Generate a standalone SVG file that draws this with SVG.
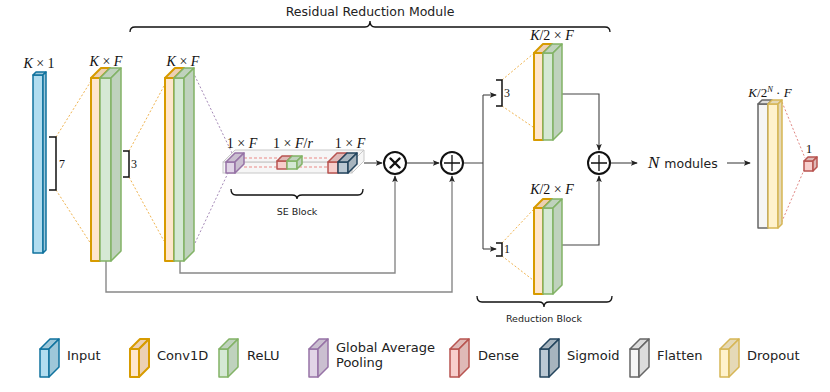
<svg xmlns="http://www.w3.org/2000/svg" width="830" height="392" viewBox="0 0 830 392">
<style>
.sans{font-family:"DejaVu Sans","Verdana",sans-serif;fill:#222}
.math{font-family:"Liberation Serif","Times New Roman",serif;fill:#111;font-size:14px}
.it{font-style:italic}
.inp *{stroke:#10739e;stroke-width:1.5;stroke-linejoin:round}
.inp .f{fill:#b1ddf0}.inp .d{fill:#9ec7d9}
.conv *{stroke:#d79b00;stroke-width:2;stroke-linejoin:round}
.conv .f{fill:#ffe6cc}.conv .d{fill:#ecd0b4}
.relu *{stroke:#82b366;stroke-width:1.5;stroke-linejoin:round}
.relu .f{fill:#d5e8d4}.relu .d{fill:#bfd2bd}
.gap *{stroke:#9673a6;stroke-width:1.5;stroke-linejoin:round}
.gap .f{fill:#e1d5e7}.gap .d{fill:#cabfd0}
.dense *{stroke:#b85450;stroke-width:1.5;stroke-linejoin:round}
.dense .f{fill:#f8cecc}.dense .d{fill:#dfb9b7}
.sig *{stroke:#23445d;stroke-width:1.5;stroke-linejoin:round}
.sig .f{fill:#bac8d3}.sig .d{fill:#a7b4be}
.flat *{stroke:#666;stroke-width:1.5;stroke-linejoin:round}
.flat .f{fill:#f5f5f5}.flat .d{fill:#dcdcdc}
.drop *{stroke:#d6b656;stroke-width:1.5;stroke-linejoin:round}
.drop .f{fill:#fff2cc}.drop .d{fill:#e5d9b7}
.sebox *{stroke:#c8c8c8;stroke-width:1;fill:#f0f0f0;fill-opacity:0.6}
.dot-o{stroke:#f0b450;stroke-width:1;stroke-dasharray:2 2;fill:none}
.dot-p{stroke:#a68bb8;stroke-width:1;stroke-dasharray:2 2;fill:none}
.dot-r{stroke:#e08884;stroke-width:1;stroke-dasharray:2 2;fill:none}
.dash-r{stroke:#ea8a86;stroke-width:1;stroke-dasharray:3 2;fill:none}
.brk{stroke:#111;stroke-width:1.5;fill:none}
.brace{stroke:#111;stroke-width:1.3;fill:none}
.ln{stroke:#444;stroke-width:1.1;fill:none}
.lg{stroke:#888;stroke-width:1.4;fill:none}
.op{fill:#fff;stroke:#111;stroke-width:2}
.num{font-family:"Liberation Serif","Times New Roman",serif;fill:#111;font-size:12px}
</style>
<defs>
<marker id="ah" viewBox="0 0 8 8" refX="7" refY="4" markerWidth="7" markerHeight="7" markerUnits="userSpaceOnUse" orient="auto">
<path d="M0,0.8 L8,4 L0,7.2 L1.8,4 Z" fill="#222"/>
</marker>
</defs>

<!-- braces and titles -->
<g id="residual-module-brace">
<path class="brace" d="M130,32 Q130,27 135,27 L365,27 Q370,27 370,21 Q370,27 375,27 L605,27 Q610,27 610,32"/>
<text class="sans" x="370" y="16" font-size="12.5" text-anchor="middle">Residual Reduction Module</text>
</g>

<!-- connectors -->
<g id="connectors">
<path class="dot-o" d="M56,137 L91,81 M56,190 L91,244"/>
<path class="dot-o" d="M129,151 L164,86 M129,177 L164,241"/>
<path class="dot-p" d="M193,72 L232,153 M195,243 L228,173"/>
<path class="dot-o" d="M502,80 L533,54 M502,106 L533,127"/>
<path class="dot-o" d="M502,243 L533,210 M502,256 L533,280"/>
<path class="dot-r" d="M782,102 L805,158 M780,226 L804,170"/>
<path class="lg" d="M106,261 L106,292 L452,292 L452,176" marker-end="url(#ah)"/>
<path class="lg" d="M180,261 L180,273 L395,273 L395,176" marker-end="url(#ah)"/>
<path class="ln" d="M364,163 L382,163" marker-end="url(#ah)"/>
<path class="ln" d="M407,163 L439,163" marker-end="url(#ah)"/>
<path class="ln" d="M464,163 L483,163 M483,95 L483,249"/>
<path class="ln" d="M483,95 L496,95" marker-end="url(#ah)"/>
<path class="ln" d="M483,249 L496,249" marker-end="url(#ah)"/>
<path class="ln" d="M560,94 L599,94 L599,150" marker-end="url(#ah)"/>
<path class="ln" d="M559,245 L599,245 L599,176" marker-end="url(#ah)"/>
<path class="ln" d="M611,163 L637,163" marker-end="url(#ah)"/>
<path class="ln" d="M727,163 L750,163" marker-end="url(#ah)"/>
</g>

<!-- input -->
<g id="input">
<g class="inp"><rect class="f" x="33" y="75" width="10" height="178"/><path class="d" d="M33,75 L36,72 L46,72 L43,75Z"/><path class="d" d="M43,75 L46,72 L46,250 L43,253Z"/></g>
<text class="math" x="39" y="68" text-anchor="middle"><tspan class="it">K</tspan> × 1</text>
</g>
<g id="kernel7">
<path class="brk" d="M49,137 L56,137 L56,190 L49,190"/>
<text class="num" x="59" y="168">7</text>
</g>

<!-- conv block 1 -->
<g id="conv1">
<g class="conv"><rect class="f" x="91" y="78" width="9" height="183"/><path class="d" d="M91,78 L101,68 L110,68 L100,78Z"/></g>
<g class="relu"><rect class="f" x="100" y="78" width="11" height="183"/><path class="d" d="M100,78 L110,68 L121,68 L111,78Z"/><path class="d" d="M111,78 L121,68 L121,251 L111,261Z"/></g>
<text class="math" x="106" y="66" text-anchor="middle"><tspan class="it">K</tspan> × <tspan class="it">F</tspan></text>
</g>
<g id="kernel3a">
<path class="brk" d="M123,151 L129,151 L129,177 L123,177"/>
<text class="num" x="131" y="168">3</text>
</g>

<!-- conv block 2 -->
<g id="conv2">
<g class="conv"><rect class="f" x="165" y="78" width="9" height="183"/><path class="d" d="M165,78 L175,68 L184,68 L174,78Z"/></g>
<g class="relu"><rect class="f" x="174" y="78" width="10" height="183"/><path class="d" d="M174,78 L184,68 L194,68 L184,78Z"/><path class="d" d="M184,78 L194,68 L194,251 L184,261Z"/></g>
<text class="math" x="183" y="66" text-anchor="middle"><tspan class="it">K</tspan> × <tspan class="it">F</tspan></text>
</g>

<!-- SE block -->
<g id="se-block">
<g class="sebox"><rect x="223" y="162" width="129" height="11"/><path d="M223,162 L235,150 L364,150 L352,162Z"/><path d="M352,162 L364,150 L364,161 L352,173Z"/></g>
<path class="dash-r" d="M244,158 L328,158 M244,167 L328,167"/>
<g class="gap"><rect class="f" x="226" y="162" width="9" height="11"/><path class="d" d="M226,162 L235,153 L244,153 L235,162Z"/><path class="d" d="M235,162 L244,153 L244,164 L235,173Z"/></g>
<g class="dense"><rect class="f" x="277" y="161" width="10" height="8"/><path class="d" d="M277,161 L282,156 L292,156 L287,161Z"/></g>
<g class="relu"><rect class="f" x="287" y="161" width="10" height="8"/><path class="d" d="M287,161 L292,156 L302,156 L297,161Z"/><path class="d" d="M297,161 L302,156 L302,164 L297,169Z"/></g>
<g class="dense"><rect class="f" x="328" y="162" width="10" height="11"/><path class="d" d="M328,162 L337,153 L347,153 L338,162Z"/></g>
<g class="sig"><rect class="f" x="338" y="162" width="10" height="11"/><path class="d" d="M338,162 L347,153 L357,153 L348,162Z"/><path class="d" d="M348,162 L357,153 L357,164 L348,173Z"/></g>
<text class="math" x="242" y="148" text-anchor="middle">1 × <tspan class="it">F</tspan></text>
<text class="math" x="293" y="148" text-anchor="middle">1 × <tspan class="it">F</tspan>/<tspan class="it">r</tspan></text>
<text class="math" x="350" y="148" text-anchor="middle">1 × <tspan class="it">F</tspan></text>
<path class="brace" d="M231,189 Q231,195 236,195 L292,195 Q297,195 297,199 Q297,195 302,195 L358,195 Q363,195 363,189"/>
<text class="sans" x="297" y="215" font-size="9.5" text-anchor="middle">SE Block</text>
</g>

<!-- operators -->
<g id="multiply">
<circle class="op" cx="395" cy="163" r="11"/>
<path d="M390.5,158.5 L399.5,167.5 M399.5,158.5 L390.5,167.5" stroke="#111" stroke-width="2.4" stroke-linecap="round"/>
</g>
<g id="add1">
<circle class="op" cx="452" cy="163" r="11"/>
<path d="M452,155 L452,171 M444,163 L460,163" stroke="#111" stroke-width="1.3"/>
</g>

<!-- reduction block -->
<g id="kernel3b">
<path class="brk" d="M496,80 L502,80 L502,106 L496,106"/>
<text class="num" x="504" y="97">3</text>
</g>
<g id="red-conv-upper">
<g class="conv"><rect class="f" x="534" y="53" width="9" height="87"/><path class="d" d="M534,53 L543,44 L552,44 L543,53Z"/></g>
<g class="relu"><rect class="f" x="543" y="53" width="10" height="87"/><path class="d" d="M543,53 L552,44 L562,44 L553,53Z"/><path class="d" d="M553,53 L562,44 L562,131 L553,140Z"/></g>
<text class="math" x="552" y="40" text-anchor="middle"><tspan class="it">K</tspan>/2 × <tspan class="it">F</tspan></text>
</g>
<g id="kernel1">
<path class="brk" d="M496,243 L502,243 L502,256 L496,256"/>
<text class="num" x="504" y="253">1</text>
</g>
<g id="red-conv-lower">
<g class="conv"><rect class="f" x="534" y="208" width="9" height="86"/><path class="d" d="M534,208 L543,199 L552,199 L543,208Z"/></g>
<g class="relu"><rect class="f" x="543" y="208" width="10" height="86"/><path class="d" d="M543,208 L552,199 L562,199 L553,208Z"/><path class="d" d="M553,208 L562,199 L562,285 L553,294Z"/></g>
<text class="math" x="552" y="194" text-anchor="middle"><tspan class="it">K</tspan>/2 × <tspan class="it">F</tspan></text>
</g>
<g id="reduction-brace">
<path class="brace" d="M477,296 Q477,302 482,302 L539,302 Q544,302 544,307 Q544,302 549,302 L607,302 Q612,302 612,296"/>
<text class="sans" x="544" y="322" font-size="9.5" text-anchor="middle">Reduction Block</text>
</g>
<g id="add2">
<circle class="op" cx="599" cy="163" r="11"/>
<path d="M599,155 L599,171 M591,163 L607,163" stroke="#111" stroke-width="1.3"/>
</g>

<g id="n-modules">
<text x="648" y="168"><tspan class="math it" style="font-size:17px">N</tspan><tspan class="sans" font-size="12.5" dx="5">modules</tspan></text>
</g>

<!-- output -->
<g id="flatten-dropout">
<g class="flat"><rect class="f" x="758" y="104" width="10" height="124"/><path class="d" d="M758,104 L762,100 L772,100 L768,104Z"/></g>
<g class="drop"><rect class="f" x="768" y="104" width="10" height="124"/><path class="d" d="M768,104 L772,100 L782,100 L778,104Z"/><path class="d" d="M778,104 L782,100 L782,224 L778,228Z"/></g>
<text class="math" x="770" y="97" text-anchor="middle" style="font-size:13px"><tspan class="it">K</tspan>/2<tspan class="it" style="font-size:8.5px" dy="-5">N</tspan><tspan dy="5"> · </tspan><tspan class="it">F</tspan></text>
</g>
<g id="output-dense">
<g class="dense"><rect class="f" x="804" y="161" width="9" height="10"/><path class="d" d="M804,161 L808,157 L817,157 L813,161Z"/><path class="d" d="M813,161 L817,157 L817,167 L813,171Z"/></g>
<text class="math" x="809" y="153" text-anchor="middle" style="font-size:13px">1</text>
</g>

<!-- legend -->
<g id="legend">
<g class="inp"><rect class="f" x="40" y="349" width="9" height="28"/><path class="d" d="M40,349 L50,339 L59,339 L49,349Z"/><path class="d" d="M49,349 L59,339 L59,367 L49,377Z"/></g>
<text class="sans" x="67" y="360" font-size="13">Input</text>
<g class="conv"><rect class="f" x="130" y="349" width="9" height="28"/><path class="d" d="M130,349 L140,339 L149,339 L139,349Z"/><path class="d" d="M139,349 L149,339 L149,367 L139,377Z"/></g>
<text class="sans" x="157" y="360" font-size="13">Conv1D</text>
<g class="relu"><rect class="f" x="219" y="349" width="9" height="28"/><path class="d" d="M219,349 L229,339 L238,339 L228,349Z"/><path class="d" d="M228,349 L238,339 L238,367 L228,377Z"/></g>
<text class="sans" x="247" y="360" font-size="13">ReLU</text>
<g class="gap"><rect class="f" x="309" y="349" width="9" height="28"/><path class="d" d="M309,349 L319,339 L328,339 L318,349Z"/><path class="d" d="M318,349 L328,339 L328,367 L318,377Z"/></g>
<text class="sans" x="336" y="352" font-size="13">Global Average</text>
<text class="sans" x="336" y="367" font-size="13">Pooling</text>
<g class="dense"><rect class="f" x="450" y="349" width="9" height="28"/><path class="d" d="M450,349 L460,339 L469,339 L459,349Z"/><path class="d" d="M459,349 L469,339 L469,367 L459,377Z"/></g>
<text class="sans" x="478" y="360" font-size="13">Dense</text>
<g class="sig"><rect class="f" x="540" y="349" width="9" height="28"/><path class="d" d="M540,349 L550,339 L559,339 L549,349Z"/><path class="d" d="M549,349 L559,339 L559,367 L549,377Z"/></g>
<text class="sans" x="567" y="360" font-size="13">Sigmoid</text>
<g class="flat"><rect class="f" x="630" y="349" width="9" height="28"/><path class="d" d="M630,349 L640,339 L649,339 L639,349Z"/><path class="d" d="M639,349 L649,339 L649,367 L639,377Z"/></g>
<text class="sans" x="657" y="360" font-size="13">Flatten</text>
<g class="drop"><rect class="f" x="720" y="349" width="9" height="28"/><path class="d" d="M720,349 L730,339 L739,339 L729,349Z"/><path class="d" d="M729,349 L739,339 L739,367 L729,377Z"/></g>
<text class="sans" x="747" y="360" font-size="13">Dropout</text>
</g>
</svg>
